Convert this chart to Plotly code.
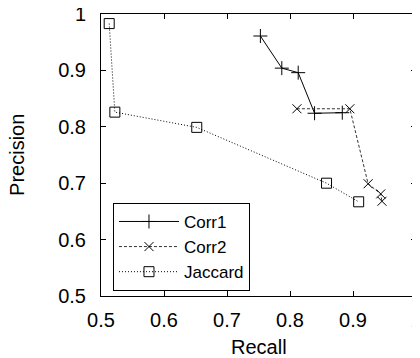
import plotly.graph_objects as go

# Data
corr1_recall = [0.753, 0.787, 0.813, 0.839, 0.883]
corr1_precision = [0.961, 0.904, 0.896, 0.824, 0.825]

corr2_recall = [0.811, 0.895, 0.924, 0.944, 0.946]
corr2_precision = [0.832, 0.832, 0.699, 0.681, 0.668]

jaccard_recall = [0.513, 0.522, 0.652, 0.858, 0.909]
jaccard_precision = [0.983, 0.826, 0.799, 0.700, 0.667]

x_ticks = [0.5, 0.6, 0.7, 0.8, 0.9, 1.0]
x_tick_labels = ["0.5", "0.6", "0.7", "0.8", "0.9", "1"]
y_ticks = [0.5, 0.6, 0.7, 0.8, 0.9, 1.0]
y_tick_labels = ["0.5", "0.6", "0.7", "0.8", "0.9", "1"]

FONT = "Liberation Sans, Arial, sans-serif"

fig = go.Figure()
fig.add_trace(go.Scatter(
    x=corr1_recall, y=corr1_precision, name="Corr1", mode="lines+markers",
    line=dict(color="black", width=1),
    marker=dict(symbol="cross-thin", size=10, line=dict(color="black", width=1)),
))
fig.add_trace(go.Scatter(
    x=corr2_recall, y=corr2_precision, name="Corr2", mode="lines+markers",
    line=dict(color="#333333", width=1, dash="3px,2px"),
    marker=dict(symbol="x-thin", size=9, line=dict(color="black", width=1)),
))
fig.add_trace(go.Scatter(
    x=jaccard_recall, y=jaccard_precision, name="Jaccard", mode="lines+markers",
    line=dict(color="black", width=1, dash="1px,2px"),
    marker=dict(symbol="square-open", size=10, color="black", line=dict(width=1)),
))

axis_common = dict(
    showgrid=False, zeroline=False, showline=True, linecolor="black", linewidth=1,
    mirror="ticks", ticks="inside", ticklen=5, tickcolor="black", tickwidth=1,
    tickfont=dict(family=FONT, size=20, color="black"), automargin=False,
)
fig.update_xaxes(range=[0.5, 1.0], tickvals=x_ticks, ticktext=x_tick_labels,
                 ticklabelstandoff=6, ticklabeloverflow="allow", **axis_common)
fig.update_yaxes(range=[0.5, 1.0], tickvals=y_ticks, ticktext=y_tick_labels,
                 ticklabelstandoff=10, ticklabeloverflow="allow", **axis_common)

fig.add_annotation(text="Recall", xref="paper", yref="paper", x=0.5, y=-0.181,
                   xanchor="center", yanchor="middle", showarrow=False,
                   font=dict(family=FONT, size=20, color="black"))
fig.add_annotation(text="Precision", xref="paper", yref="paper", x=-0.267, y=0.5,
                   xanchor="center", yanchor="middle", textangle=-90, showarrow=False,
                   font=dict(family=FONT, size=20, color="black"))

fig.update_layout(
    width=412, height=350,
    margin=dict(l=93, r=4, t=6, b=62),
    paper_bgcolor="white", plot_bgcolor="white",
    font=dict(family=FONT, size=20, color="black"),
    legend=dict(x=0.038, y=0.018, xanchor="left", yanchor="bottom",
                bordercolor="black", borderwidth=1, bgcolor="white",
                font=dict(family=FONT, size=17, color="black"),
                itemwidth=60, tracegroupgap=0,
                entrywidth=128, entrywidthmode="pixels"),
    showlegend=True,
)

fig.write_html("out.html")
